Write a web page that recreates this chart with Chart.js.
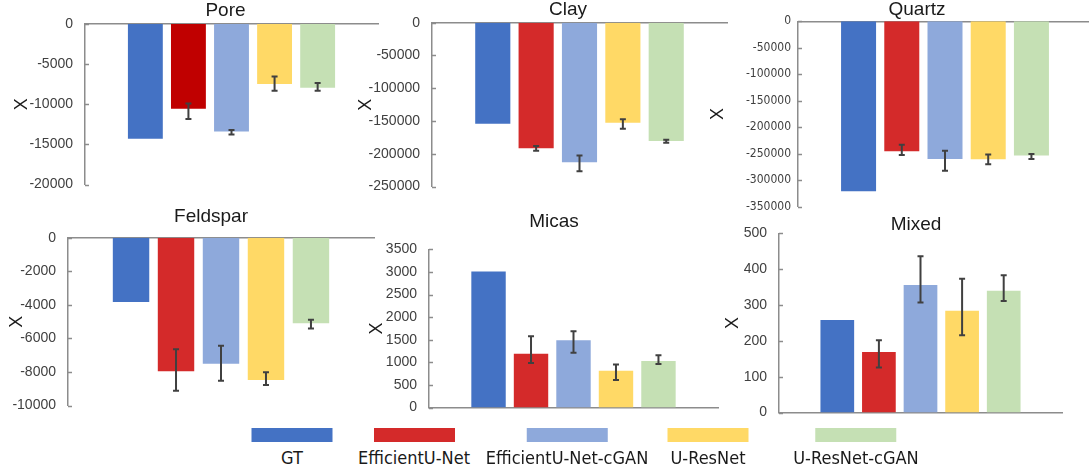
<!DOCTYPE html>
<html>
<head>
<title></title>
<script src="https://cdn.jsdelivr.net/npm/chart.js@4/dist/chart.umd.min.js"></script>
<style>
body { margin: 0; background: #fff; }
#wrap { position: relative; width: 1089px; height: 470px; overflow: hidden; background: #fff; }
#wrap canvas { position: absolute; }
.key { position: absolute; top: 428px; transform: translateX(-50%); text-align: center; white-space: nowrap;
       font-family: "Liberation Sans Narrow", "DejaVu Sans Condensed", sans-serif; font-size: 18px; line-height: 21px; color: #1a1a1a; }
.key span { display: block; width: 81px; height: 14px; margin: 0 auto 5px; }
</style>
</head>
<body>
<div id="wrap"></div>
<script>
var methods = ['GT', 'EfficientU-Net', 'EfficientU-Net-cGAN', 'U-ResNet', 'U-ResNet-cGAN'];
var colors = ['#4472C4', '#D42A2A', '#8EA9DB', '#FFD966', '#C5E0B4'];

var poreValues = [-14300, -10550, -13380, -7480, -7950];
var poreLow    = [null, -11830, -13750, -8320, -8320];
var poreHigh   = [null, -9900, -13200, -6540, -7340];

var clayValues = [-154200, -191500, -212700, -152700, -180300];
var clayLow    = [null, -195300, -226700, -161900, -183200];
var clayHigh   = [null, -188000, -202500, -147400, -178400];

var quartzValues = [-320800, -245200, -259600, -260200, -253400];
var quartzLow    = [null, -252100, -282100, -269500, -259600];
var quartzHigh   = [null, -232800, -244100, -251500, -250200];

var feldsparValues = [-3830, -7950, -7500, -8480, -5100];
var feldsparLow    = [null, -9110, -8520, -8770, -5410];
var feldsparHigh   = [null, -6640, -6430, -8010, -4880];

var micasValues = [3010, 1190, 1490, 812, 1030];
var micasLow    = [null, 987, 1211, 609, 966];
var micasHigh   = [null, 1575, 1686, 951, 1155];

var mixedValues = [258, 169, 356, 284, 340];
var mixedLow    = [null, 126, 307, 216, 311];
var mixedHigh   = [null, 202, 436, 373, 383];

var narrow = '"Liberation Sans Narrow", "DejaVu Sans Condensed", sans-serif';
var sans = '"Liberation Sans", Arial, sans-serif';

var panels = [
  { title: 'Pore', values: poreValues, low: poreLow, high: poreHigh, min: -20000, max: 0, step: 5000,
    axisX: 85, right: 378, top: 24, bottom: 193, tcx: 225.5, tcy: 11, ycx: 22,
    colors: ['#4472C4', '#C00000', '#8EA9DB', '#FFD966', '#C5E0B4'] },
  { title: 'Clay', values: clayValues, low: clayLow, high: clayHigh, min: -250000, max: 0, step: 50000,
    axisX: 432, right: 727, top: 22.7, bottom: 195, tcx: 568, tcy: 9.5, ycx: 366 },
  { title: 'Quartz', values: quartzValues, low: quartzLow, high: quartzHigh, min: -350000, max: 0, step: 50000,
    axisX: 798, right: 1092, top: 21.3, bottom: 208.3, tcx: 917, tcy: 10, ycx: 718, tickFont: narrow, tickSize: 12, tickPad: 7 },
  { title: 'Feldspar', values: feldsparValues, low: feldsparLow, high: feldsparHigh, min: -10000, max: 0, step: 2000,
    axisX: 68, right: 374, top: 237.7, bottom: 413.3, tcx: 211, tcy: 217, ycx: 17 },
  { title: 'Micas', values: micasValues, low: micasLow, high: micasHigh, min: 0, max: 3500, step: 500,
    axisX: 429, right: 718, top: 249.3, bottom: 416, tcx: 554, tcy: 222, ycx: 377 },
  { title: 'Mixed', values: mixedValues, low: mixedLow, high: mixedHigh, min: 0, max: 500, step: 100,
    axisX: 779, right: 1062, top: 233.3, bottom: 421, tcx: 916, tcy: 225, ycx: 733 }
];

// error bars drawn through the y scale
var errorBars = {
  id: 'errorBars',
  afterDatasetsDraw: function(chart) {
    var ctx = chart.ctx, y = chart.scales.y;
    ctx.save();
    ctx.strokeStyle = '#404040';
    ctx.lineWidth = 2;
    chart.data.datasets.forEach(function(ds, i) {
      if (ds.errLow == null) return;
      var bar = chart.getDatasetMeta(i).data[0];
      var y1 = y.getPixelForValue(ds.errLow), y2 = y.getPixelForValue(ds.errHigh);
      ctx.beginPath();
      ctx.moveTo(bar.x, y1); ctx.lineTo(bar.x, y2);
      ctx.moveTo(bar.x - 3, y1); ctx.lineTo(bar.x + 3, y1);
      ctx.moveTo(bar.x - 3, y2); ctx.lineTo(bar.x + 3, y2);
      ctx.stroke();
    });
    ctx.restore();
  }
};

// small tick marks pointing into the plot
var innerTicks = {
  id: 'innerTicks',
  afterDraw: function(chart) {
    var ctx = chart.ctx, s = chart.scales.y;
    ctx.save();
    ctx.strokeStyle = '#8c8c8c';
    ctx.lineWidth = 1.5;
    s.ticks.forEach(function(t) {
      var py = Math.round(s.getPixelForValue(t.value)) + 0.5;
      ctx.beginPath();
      ctx.moveTo(s.right, py); ctx.lineTo(s.right + 4, py);
      ctx.stroke();
    });
    ctx.restore();
  }
};

var wrap = document.getElementById('wrap');
var lh = 19 * 1.2, ylh = 18 * 1.2;

panels.forEach(function(p) {
  var sl = p.ycx - ylh / 2;                  // left edge of the y scale box
  var yw = p.axisX - sl;                     // y scale width
  var extra = Math.max(0, 2 * p.tcx - sl - p.right); // spacer on the right so the title centres where it should
  var cL = Math.floor(sl) - 5;
  var cT = Math.floor(p.tcy - lh / 2) - 5;
  var cW = Math.ceil(p.right + extra + 5 - cL);
  var cH = Math.ceil(p.bottom + 12 - cT);
  var canvas = document.createElement('canvas');
  canvas.width = cW; canvas.height = cH;
  canvas.style.left = cL + 'px'; canvas.style.top = cT + 'px';
  wrap.appendChild(canvas);
  var neg = p.max <= 0;
  var cols = p.colors || colors;

  new Chart(canvas, {
    type: 'bar',
    data: {
      labels: [p.title],
      datasets: methods.map(function(m, i) {
        return { label: m, data: [p.values[i]], backgroundColor: cols[i],
                 errLow: p.low[i], errHigh: p.high[i],
                 categoryPercentage: 0.735, barPercentage: 0.81 };
      })
    },
    options: {
      responsive: false, animation: false, devicePixelRatio: 1,
      layout: { autoPadding: false,
        padding: { left: sl - cL, right: cL + cW - p.right - extra, top: p.tcy - lh / 2 - cT, bottom: cT + cH - p.bottom } },
      plugins: {
        legend: { display: false },
        tooltip: { enabled: false },
        title: { display: true, text: p.title, color: '#1a1a1a',
                 font: { size: 19, family: sans, weight: 'normal' },
                 padding: { top: 0, bottom: p.top - p.tcy - lh / 2 } }
      },
      scales: {
        x: { position: neg ? 'top' : 'bottom', grid: { display: false },
             border: { color: '#8c8c8c', width: 1.5 }, ticks: { display: false },
             afterFit: function(s) { s.height = 0; } },
        y: { min: p.min, max: p.max,
             grid: { display: false, drawTicks: false },
             border: { color: '#8c8c8c', width: 1.5 },
             ticks: { stepSize: p.step, padding: p.tickPad || 12, color: '#404040',
                      font: { size: p.tickSize || 14, family: p.tickFont || sans },
                      callback: function(v) { return String(v); } },
             title: { display: true, text: 'X', color: '#1a1a1a', font: { size: 18, family: sans },
                      padding: { top: 0, bottom: 0 } },
             afterFit: function(s) { s.width = yw; } },
        spacer: { type: 'linear', position: 'right', display: true,
                  grid: { display: false }, border: { display: false }, ticks: { display: false },
                  afterFit: function(s) { s.width = extra; } }
      }
    },
    plugins: [errorBars, innerTicks]
  });
});

// legend below the panels
var keyCenters = [292, 414, 567, 708, 856];
methods.forEach(function(m, i) {
  var d = document.createElement('div');
  d.className = 'key';
  d.style.left = keyCenters[i] + 'px';
  var sw = document.createElement('span');
  sw.style.background = colors[i];
  d.appendChild(sw);
  d.appendChild(document.createTextNode(m));
  wrap.appendChild(d);
});
</script>
</body>
</html>
